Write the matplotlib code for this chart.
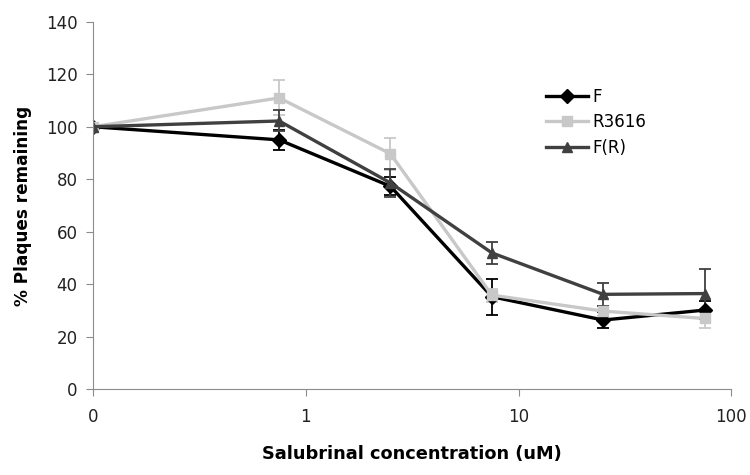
import numpy as np
import matplotlib
matplotlib.use('Agg')
import matplotlib.pyplot as plt
from matplotlib.lines import Line2D

# concentrations (uM); the "0" dose is drawn at 0.1 on the log axis
conc = [0.1, 0.75, 2.5, 7.5, 25, 75]

f_vals = [100, 95, 77.3, 35.2, 26.3, 30.1]
f_err = [0, 3.7, 3.5, 6.8, 3.0, 3.5]

r3616_vals = [100, 111, 89.7, 35.8, 29.7, 26.9]
r3616_err = [0, 6.7, 6.2, 2.5, 2.0, 3.8]

fr_vals = [100, 102.2, 78.6, 51.9, 36.1, 36.4]
fr_err = [0, 4.0, 5.2, 4.1, 4.5, 9.2]

series = [
    ('F', f_vals, f_err, '#000000', 'D'),
    ('R3616', r3616_vals, r3616_err, '#c8c8c8', 's'),
    ('F(R)', fr_vals, fr_err, '#404040', '^'),
]

fig = plt.figure(figsize=(7.5, 4.75), dpi=100)
ax = fig.add_axes([0.124, 0.181, 0.851, 0.773])

handles = []
for name, vals, err, color, marker in series:
    ax.errorbar(conc, vals, yerr=err, color=color, ecolor=color, lw=2.4,
                elinewidth=1.3, capsize=4, capthick=1.3,
                marker=marker, markersize=7.5)
    handles.append(Line2D([], [], color=color, lw=2.4, marker=marker,
                          markersize=7.5, label=name))

ax.set_xscale('log')
ax.set_xlim(0.1, 100)
ax.set_xticks([0.1, 1, 10, 100])
ax.set_xticklabels(['0', '1', '10', '100'])
ax.xaxis.set_minor_locator(matplotlib.ticker.NullLocator())
ax.set_ylim(0, 140)
ax.set_yticks(range(0, 141, 20))

for side in ['top', 'right']:
    ax.spines[side].set_visible(False)
for side in ['left', 'bottom']:
    ax.spines[side].set_color('#8c8c8c')
ax.tick_params(axis='both', colors='#8c8c8c', labelcolor='#222222',
               labelsize=12, length=5, direction='out')
ax.tick_params(axis='x', pad=9)
ax.tick_params(axis='y', pad=6)

ax.set_xlabel('Salubrinal concentration (uM)', fontsize=12.8,
              fontweight='bold', labelpad=13)
ax.set_ylabel('% Plaques remaining', fontsize=12.2, fontweight='bold',
              labelpad=10)

ax.legend(handles=handles, loc='upper left', bbox_to_anchor=(0.708, 0.847),
          bbox_transform=fig.transFigure, frameon=False, fontsize=12,
          handlelength=2.5, labelspacing=0.45, handletextpad=0.3)

plt.savefig('out.png', dpi=100)
plt.close()
